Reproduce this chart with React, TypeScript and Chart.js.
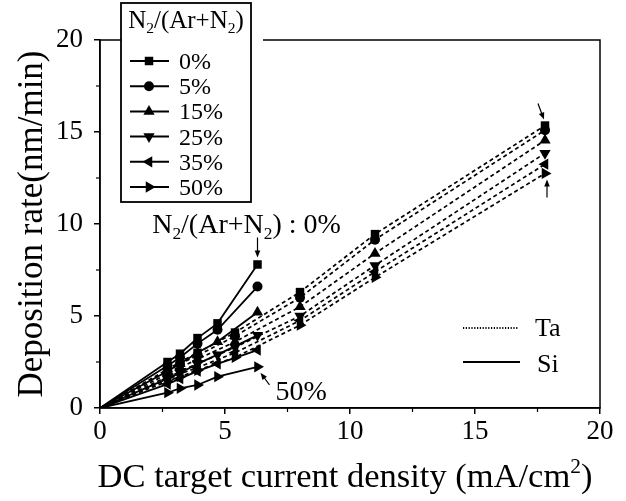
import React, { useEffect, useRef } from 'react';
import { Chart, registerables } from 'chart.js';

Chart.register(...registerables);

// ---------- DATA ----------
const SERIES_LABELS = ['0%', '5%', '15%', '25%', '35%', '50%'];

// Ta target (dashed lines)
const TA_X = [0, 2.7, 3.2, 3.9, 5.4, 8.0, 11.0, 17.8];
const TA_0 = [0, 2.1, 2.5, 3.0, 4.1, 6.3, 9.45, 15.35];
const TA_5 = [0, 2.0, 2.4, 2.85, 3.9, 6.0, 9.15, 15.1];
const TA_15 = [0, 1.85, 2.2, 2.65, 3.6, 5.5, 8.4, 14.55];
const TA_25 = [0, 1.7, 2.0, 2.4, 3.3, 5.0, 7.75, 13.85];
const TA_35 = [0, 1.55, 1.85, 2.2, 3.0, 4.75, 7.4, 13.25];
const TA_50 = [0, 1.45, 1.7, 2.05, 2.75, 4.5, 7.1, 12.75];

// Si target (solid lines)
const SI_X = [0, 2.7, 3.2, 3.9, 4.7, 6.3];
const SI_0 = [0, 2.5, 2.95, 3.8, 4.6, 7.8];
const SI_5 = [0, 2.3, 2.75, 3.5, 4.25, 6.6];
const SI_15 = [0, 2.0, 2.4, 3.0, 3.6, 5.2];
const SI_25 = [0, 1.6, 1.9, 2.4, 2.9, 3.95];
const SI_35 = [0, 1.3, 1.6, 2.0, 2.4, 3.15];
const SI_50 = [0, 0.83, 1.07, 1.25, 1.7, 2.24];

const X_TICK_LABELS = ['0', '5', '10', '15', '20'];
const Y_TICK_LABELS = ['0', '5', '10', '15', '20'];

const TA_SERIES = [TA_0, TA_5, TA_15, TA_25, TA_35, TA_50];
const SI_SERIES = [SI_0, SI_5, SI_15, SI_25, SI_35, SI_50];

// ---------- STYLE ----------
const FONT = '"Liberation Serif", "Times New Roman", serif';
const MARKERS = [
  { style: 'rect', rotation: 0, radius: 6 },
  { style: 'circle', rotation: 0, radius: 5 },
  { style: 'triangle', rotation: 0, radius: 6.5 },
  { style: 'triangle', rotation: 180, radius: 6.5 },
  { style: 'triangle', rotation: 270, radius: 6.5 },
  { style: 'triangle', rotation: 90, radius: 6.5 },
];

type Part = [string, 'n' | 'sub' | 'sup'];

function drawRich(ctx: CanvasRenderingContext2D, parts: Part[], x: number, y: number, size: number, align: 'left' | 'center') {
  const sizes = parts.map(([, k]) => (k === 'n' ? size : size * 0.62));
  const widths = parts.map(([t], i) => {
    ctx.font = `${sizes[i]}px ${FONT}`;
    return ctx.measureText(t).width;
  });
  const total = widths.reduce((a, b) => a + b, 0);
  let cx = align === 'center' ? x - total / 2 : x;
  ctx.textBaseline = 'alphabetic';
  ctx.textAlign = 'left';
  parts.forEach(([t, k], i) => {
    ctx.font = `${sizes[i]}px ${FONT}`;
    const dy = k === 'sub' ? size * 0.2 : k === 'sup' ? -size * 0.4 : 0;
    ctx.fillText(t, cx, y + dy);
    cx += widths[i];
  });
}

function drawMarker(ctx: CanvasRenderingContext2D, style: string, rotation: number, r: number, x: number, y: number) {
  ctx.beginPath();
  if (style === 'circle') {
    ctx.arc(x, y, r, 0, Math.PI * 2);
  } else if (style === 'rect') {
    const s = r * Math.SQRT1_2;
    ctx.rect(x - s, y - s, 2 * s, 2 * s);
  } else {
    let rad = (rotation * Math.PI) / 180;
    ctx.moveTo(x + Math.sin(rad) * r, y - Math.cos(rad) * r);
    for (let k = 0; k < 2; k++) {
      rad += (2 * Math.PI) / 3;
      ctx.lineTo(x + Math.sin(rad) * r, y - Math.cos(rad) * r);
    }
    ctx.closePath();
  }
  ctx.fill();
}

function drawArrow(ctx: CanvasRenderingContext2D, x1: number, y1: number, x2: number, y2: number) {
  const ang = Math.atan2(y2 - y1, x2 - x1);
  const hl = 7;
  const hw = 2.8;
  ctx.beginPath();
  ctx.moveTo(x1, y1);
  ctx.lineTo(x2 - Math.cos(ang) * hl * 0.8, y2 - Math.sin(ang) * hl * 0.8);
  ctx.lineWidth = 1.2;
  ctx.stroke();
  ctx.beginPath();
  ctx.moveTo(x2, y2);
  ctx.lineTo(x2 - Math.cos(ang) * hl - Math.sin(ang) * hw, y2 - Math.sin(ang) * hl + Math.cos(ang) * hw);
  ctx.lineTo(x2 - Math.cos(ang) * hl + Math.sin(ang) * hw, y2 - Math.sin(ang) * hl - Math.cos(ang) * hw);
  ctx.closePath();
  ctx.fill();
}

const decorPlugin = {
  id: 'decor',
  afterDraw(chart: any) {
    const ctx: CanvasRenderingContext2D = chart.ctx;
    const { left, right, top, bottom } = chart.chartArea;
    const xs = chart.scales.x;
    const ys = chart.scales.y;
    ctx.save();
    ctx.strokeStyle = '#000';
    ctx.fillStyle = '#000';
    ctx.setLineDash([]);

    // frame
    ctx.lineWidth = 1.5;
    ctx.strokeRect(left, top, right - left, bottom - top);

    // minor ticks
    ctx.lineWidth = 1.2;
    for (let v = 2.5; v < 20; v += 5) {
      const px = xs.getPixelForValue(v);
      ctx.beginPath();
      ctx.moveTo(px, bottom);
      ctx.lineTo(px, bottom + 4);
      ctx.stroke();
      const py = ys.getPixelForValue(v);
      ctx.beginPath();
      ctx.moveTo(left, py);
      ctx.lineTo(left - 4, py);
      ctx.stroke();
    }

    // axis titles
    ctx.fillStyle = '#000';
    drawRich(ctx, [['DC target current density (mA/cm', 'n'], ['2', 'sup'], [')', 'n']], (left + right) / 2 - 5, 487, 34.5, 'center');
    ctx.save();
    ctx.translate(42, (top + bottom) / 2);
    ctx.rotate(-Math.PI / 2);
    drawRich(ctx, [['Deposition rate(nm/min)', 'n']], 0, 0, 35, 'center');
    ctx.restore();

    // N2 legend box
    const bx = 121, by = 3, bw = 130, bh = 199;
    ctx.fillStyle = '#fff';
    ctx.fillRect(bx, by, bw + 12, bh);
    ctx.fillStyle = '#000';
    ctx.lineWidth = 1.8;
    ctx.strokeRect(bx, by, bw, bh);
    drawRich(ctx, [['N', 'n'], ['2', 'sub'], ['/(Ar+N', 'n'], ['2', 'sub'], [')', 'n']], bx + bw / 2, 28, 25, 'center');
    SERIES_LABELS.forEach((lab, i) => {
      const ry = 61 + i * 25.2;
      ctx.beginPath();
      ctx.lineWidth = 2;
      ctx.moveTo(130, ry);
      ctx.lineTo(169, ry);
      ctx.stroke();
      const m = MARKERS[i];
      drawMarker(ctx, m.style, m.rotation, m.radius, 149, ry);
      ctx.font = `24px ${FONT}`;
      ctx.textAlign = 'left';
      ctx.textBaseline = 'alphabetic';
      ctx.fillText(lab, 179, ry + 8);
    });

    // Ta / Si legend
    ctx.lineWidth = 1.8;
    ctx.setLineDash([1.2, 1.6]);
    ctx.beginPath();
    ctx.moveTo(463, 328);
    ctx.lineTo(518, 328);
    ctx.stroke();
    ctx.setLineDash([]);
    ctx.lineWidth = 1.8;
    ctx.beginPath();
    ctx.moveTo(463, 362);
    ctx.lineTo(520, 362);
    ctx.stroke();
    ctx.font = `26px ${FONT}`;
    ctx.fillText('Ta', 535, 336);
    ctx.fillText('Si', 537, 372);

    // annotations
    const siLastX = xs.getPixelForValue(SI_X[SI_X.length - 1]);
    const si0Y = ys.getPixelForValue(SI_0[SI_0.length - 1]);
    drawArrow(ctx, siLastX, si0Y - 27, siLastX, si0Y - 7);
    drawRich(ctx, [['N', 'n'], ['2', 'sub'], ['/(Ar+N', 'n'], ['2', 'sub'], [') : 0%', 'n']], siLastX - 11, si0Y - 31, 28, 'center');

    const si50Y = ys.getPixelForValue(SI_50[SI_50.length - 1]);
    drawArrow(ctx, siLastX + 12, si50Y + 18, siLastX + 3, si50Y + 6);
    ctx.font = `28px ${FONT}`;
    ctx.textAlign = 'left';
    ctx.fillText('50%', siLastX + 18, si50Y + 33);

    const taLastX = xs.getPixelForValue(TA_X[TA_X.length - 1]);
    const ta0Y = ys.getPixelForValue(TA_0[TA_0.length - 1]);
    const ta50Y = ys.getPixelForValue(TA_50[TA_50.length - 1]);
    drawArrow(ctx, taLastX - 7, ta0Y - 22, taLastX - 1, ta0Y - 6);
    drawArrow(ctx, taLastX + 2, ta50Y + 24, taLastX + 2, ta50Y + 6);

    ctx.restore();
  },
};

export default function App() {
  const ref = useRef<HTMLCanvasElement>(null);
  useEffect(() => {
    if (!ref.current) return;
    const mk = (xsArr: number[], ys: number[], i: number, dashed: boolean) => ({
      label: (dashed ? 'Ta ' : 'Si ') + SERIES_LABELS[i],
      data: xsArr.map((x, j) => ({ x, y: ys[j] })),
      showLine: true,
      borderColor: '#000',
      borderWidth: dashed ? 1.7 : 1.8,
      borderDash: dashed ? [4, 3] : [],
      pointStyle: MARKERS[i].style,
      rotation: MARKERS[i].rotation,
      pointRadius: xsArr.map((x) => (x === 0 ? 0 : MARKERS[i].radius)),
      pointBackgroundColor: '#000',
      pointBorderColor: '#000',
      pointBorderWidth: 0,
      tension: 0,
    });
    const datasets = [
      ...TA_SERIES.map((ys, i) => mk(TA_X, ys, i, true)),
      ...SI_SERIES.map((ys, i) => mk(SI_X, ys, i, false)),
    ];
    const chart = new Chart(ref.current, {
      type: 'scatter',
      data: { datasets } as any,
      options: {
        animation: false,
        responsive: false,
        events: [],
        layout: { padding: { left: 0, top: 40, right: 26, bottom: 0 } },
        plugins: { legend: { display: false }, tooltip: { enabled: false } },
        scales: {
          x: {
            type: 'linear',
            min: 0,
            max: 20,
            afterFit: (s: any) => { s.height = 93; },
            ticks: {
              stepSize: 5,
              color: '#000',
              padding: 2,
              maxRotation: 0,
              font: { family: FONT, size: 27 },
              callback: (v: any) => X_TICK_LABELS[Math.round(Number(v) / 5)] ?? '',
            },
            grid: { drawOnChartArea: false, drawTicks: true, tickLength: 6, color: '#000', lineWidth: 1.5 },
            border: { display: true, color: '#000', width: 1.5 },
          },
          y: {
            type: 'linear',
            min: 0,
            max: 20,
            afterFit: (s: any) => { s.width = 100; },
            ticks: {
              stepSize: 5,
              color: '#000',
              padding: 11,
              font: { family: FONT, size: 27 },
              callback: (v: any) => Y_TICK_LABELS[Math.round(Number(v) / 5)] ?? '',
            },
            grid: { drawOnChartArea: false, drawTicks: true, tickLength: 6, color: '#000', lineWidth: 1.5 },
            border: { display: true, color: '#000', width: 1.5 },
          },
        },
      } as any,
      plugins: [decorPlugin],
    });
    return () => chart.destroy();
  }, []);
  return (
    <div style={{ position: 'fixed', left: 0, top: 0, width: 626, height: 501, background: '#fff' }}>
      <canvas ref={ref} width={626} height={501} style={{ display: 'block' }} />
    </div>
  );
}
